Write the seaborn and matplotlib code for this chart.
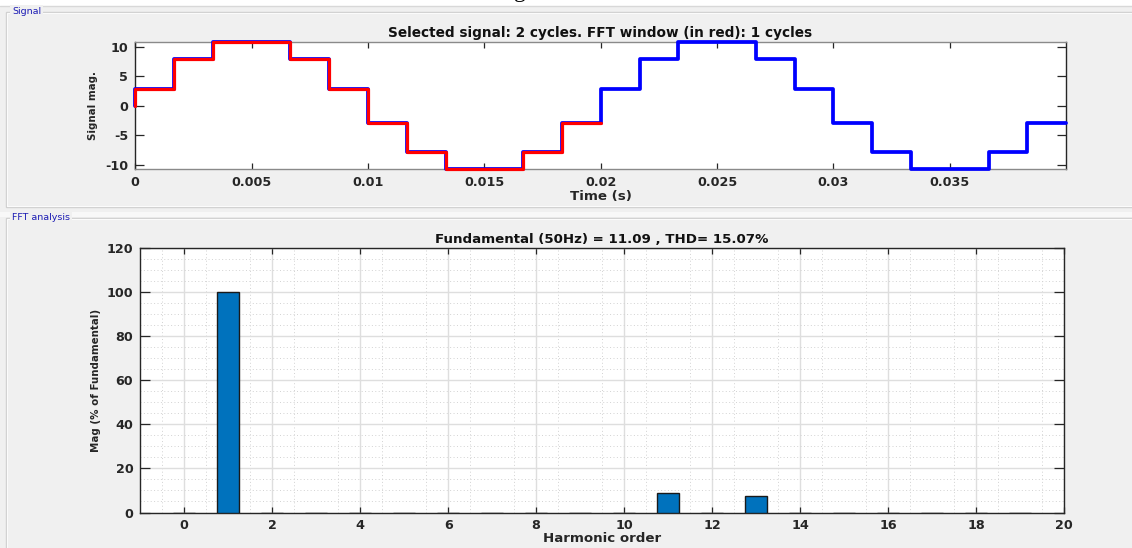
import matplotlib
matplotlib.use("Agg")
import matplotlib.pyplot as plt
import seaborn as sns
import pandas as pd
import numpy as np
from matplotlib.patches import Rectangle
from matplotlib.ticker import FixedLocator, MultipleLocator

# ---------------- data ----------------
sig_time = [0.0, 0.0, 0.001667, 0.003333, 0.006667, 0.008333, 0.01, 0.011667,
            0.013333, 0.016667, 0.018333, 0.02, 0.021667, 0.023333, 0.026667,
            0.028333, 0.03, 0.031667, 0.033333, 0.036667, 0.038333, 0.03998]
sig_value = [0.0, 2.88, 7.86, 10.74, 7.86, 2.88, -2.88, -7.86,
             -10.74, -7.86, -2.88, 2.88, 7.86, 10.74, 7.86,
             2.88, -2.88, -7.86, -10.74, -7.86, -2.88, -2.88]
fft_window_end = 0.02

harmonic_order = list(range(0, 20))
harmonic_mag = [0.0, 100.0, 0.0, 0.0, 0.0, 0.0, 0.0, 0.0, 0.0, 0.0,
                0.0, 8.9, 0.0, 7.5, 0.0, 0.0, 0.0, 0.0, 0.0, 0.0]

top_title = "Selected signal: 2 cycles. FFT window (in red): 1 cycles"
bottom_title = "Fundamental (50Hz) = 11.09 , THD= 15.07%"
time_ticks = [0, 0.005, 0.01, 0.015, 0.02, 0.025, 0.03, 0.035]
time_tick_labels = ["0", "0.005", "0.01", "0.015", "0.02", "0.025", "0.03", "0.035"]
sig_ticks = [-10, -5, 0, 5, 10]
order_ticks = [0, 2, 4, 6, 8, 10, 12, 14, 16, 18, 20]
mag_ticks = [0, 20, 40, 60, 80, 100, 120]

# ---------------- figure ----------------
sns.set_theme(style="white")
plt.rcParams["font.family"] = ["DejaVu Sans"]

W, H = 1132, 548
BG = "#f0f0f0"
TICK_FS = 9.2
fig = plt.figure(figsize=(W / 100, H / 100), dpi=100, facecolor=BG)


def fx(px):
    return px / W


def fy(py):
    return 1 - py / H


# top white strip + caption fragment
fig.add_artist(Rectangle((0, fy(6)), 1, 6 / H, transform=fig.transFigure,
                         facecolor="white", edgecolor="none", zorder=-5))
fig.add_artist(plt.Line2D([0, 1], [fy(6.3), fy(6.3)], transform=fig.transFigure,
                          color="#d8d8d8", lw=1, zorder=-4))
fig.text(fx(520), fy(-3.5), "g", family="Liberation Serif", fontsize=17,
         ha="center", va="baseline", color="black")

# band between panels
fig.add_artist(Rectangle((0, fy(216.5)), 1, 4.5 / H, transform=fig.transFigure,
                         facecolor="#f8f8f8", edgecolor="none", zorder=-5))


def panel(top, bottom, label):
    x0 = fx(5.7)
    fig.add_artist(Rectangle((x0, fy(bottom)), 1.2, (bottom - top) / H,
                             transform=fig.transFigure, facecolor="none",
                             edgecolor="#d0d0d0", lw=1, zorder=-3))
    fig.add_artist(Rectangle((x0 + 1 / W, fy(bottom) + 1 / H), 1.2,
                             (bottom - top - 2) / H,
                             transform=fig.transFigure, facecolor="none",
                             edgecolor="#fbfbfb", lw=0.8, zorder=-3))
    fig.text(fx(12), fy(top), label, fontsize=6.8, color="#1c1cb4",
             ha="left", va="center",
             bbox=dict(facecolor=BG, edgecolor="none", pad=1.2))


panel(11.7, 206.7, "Signal")
panel(218.0, 560, "FFT analysis")

ax1 = fig.add_axes([fx(135.3), fy(169.3), (1065.7 - 135.3) / W, (169.3 - 42.3) / H])
ax2 = fig.add_axes([fx(140.3), fy(512.5), (1064 - 140.3) / W, (512.5 - 248.3) / H])

# ---------------- signal plot ----------------
sig_df = pd.DataFrame({"t": sig_time, "v": sig_value})
win_df = sig_df[sig_df["t"] < fft_window_end]
win_df = pd.concat([win_df, pd.DataFrame({"t": [fft_window_end],
                                          "v": [win_df["v"].iloc[-1]]})],
                   ignore_index=True)

sns.lineplot(data=sig_df, x="t", y="v", ax=ax1, color="#0000ff", lw=2.7,
             estimator=None, sort=False, drawstyle="steps-post", clip_on=False,
             zorder=3)
sns.lineplot(data=win_df, x="t", y="v", ax=ax1, color="#ff0000", lw=2.3,
             estimator=None, sort=False, drawstyle="steps-post", clip_on=False,
             zorder=4)

ax1.set_facecolor("white")
ax1.set_xlim(0, 0.03998)
ax1.set_ylim(-10.74, 10.74)
ax1.set_xticks(time_ticks)
ax1.set_xticklabels(time_tick_labels)
ax1.set_yticks(sig_ticks)
ax1.set_yticklabels([str(v) for v in sig_ticks])
ax1.tick_params(axis="x", direction="in", length=4.5, width=0.9, top=True,
                bottom=True, pad=5, labelsize=TICK_FS, colors="#262626")
ax1.tick_params(axis="y", direction="in", length=6.5, width=0.9, left=True,
                right=True, pad=5, labelsize=TICK_FS, colors="#262626")
for s in ["top", "bottom"]:
    ax1.spines[s].set_color("#8a8a8a")
    ax1.spines[s].set_linewidth(1.0)
for s in ["left", "right"]:
    ax1.spines[s].set_color("#262626")
    ax1.spines[s].set_linewidth(1.0)
ax1.set_title(top_title, fontsize=9.8, fontweight="bold", pad=4, color="#111111")
ax1.set_xlabel("Time (s)", fontsize=9.6, fontweight="bold", color="#262626")
ax1.set_ylabel("Signal mag.", fontsize=7.4, fontweight="bold", color="#262626")
ax1.xaxis.set_label_coords(0.5, -0.16)
ax1.yaxis.set_label_coords(-0.040, 0.5)
ax1.grid(False)

# ---------------- FFT bar plot ----------------
fft_df = pd.DataFrame({"order": harmonic_order, "mag": harmonic_mag})
sns.barplot(data=fft_df, x="order", y="mag", ax=ax2, native_scale=True,
            width=0.5, color="#0072BD", saturation=1, edgecolor="#1a1a1a",
            linewidth=1.0, zorder=3)

ax2.set_facecolor("white")
ax2.set_xlim(-1, 20)
ax2.set_ylim(0, 120)
ax2.set_xticks(order_ticks)
ax2.set_xticklabels([str(v) for v in order_ticks])
ax2.set_yticks(mag_ticks)
ax2.set_yticklabels([str(v) for v in mag_ticks])
ax2.xaxis.set_minor_locator(FixedLocator(np.arange(-0.5, 20, 1.0)))
ax2.yaxis.set_minor_locator(MultipleLocator(5))
ax2.set_axisbelow(True)
ax2.grid(True, which="major", color="#dedede", lw=1.0, ls="-")
ax2.grid(True, which="minor", color="#d2d2d2", lw=0.7, ls=(0, (1, 2.5)))
ax2.tick_params(which="minor", length=0)
ax2.tick_params(axis="x", which="major", direction="in", length=4.5, width=0.9,
                top=True, bottom=True, pad=5, labelsize=TICK_FS, colors="#262626")
ax2.tick_params(axis="y", which="major", direction="in", length=7, width=0.9,
                left=True, right=True, pad=5, labelsize=TICK_FS, colors="#262626")
for s in ax2.spines.values():
    s.set_color("#262626")
    s.set_linewidth(1.0)
ax2.set_title(bottom_title, fontsize=9.6, fontweight="bold", pad=4, color="#111111")
ax2.set_xlabel("Harmonic order", fontsize=9.6, fontweight="bold", color="#262626")
ax2.set_ylabel("Mag (% of Fundamental)", fontsize=7.4, fontweight="bold",
               color="#262626")
ax2.xaxis.set_label_coords(0.5, -0.075)
ax2.yaxis.set_label_coords(-0.043, 0.5)

for ax in (ax1, ax2):
    for lbl in ax.get_xticklabels() + ax.get_yticklabels():
        lbl.set_fontweight("bold")

fig.savefig("out.png", dpi=100, facecolor=BG)
